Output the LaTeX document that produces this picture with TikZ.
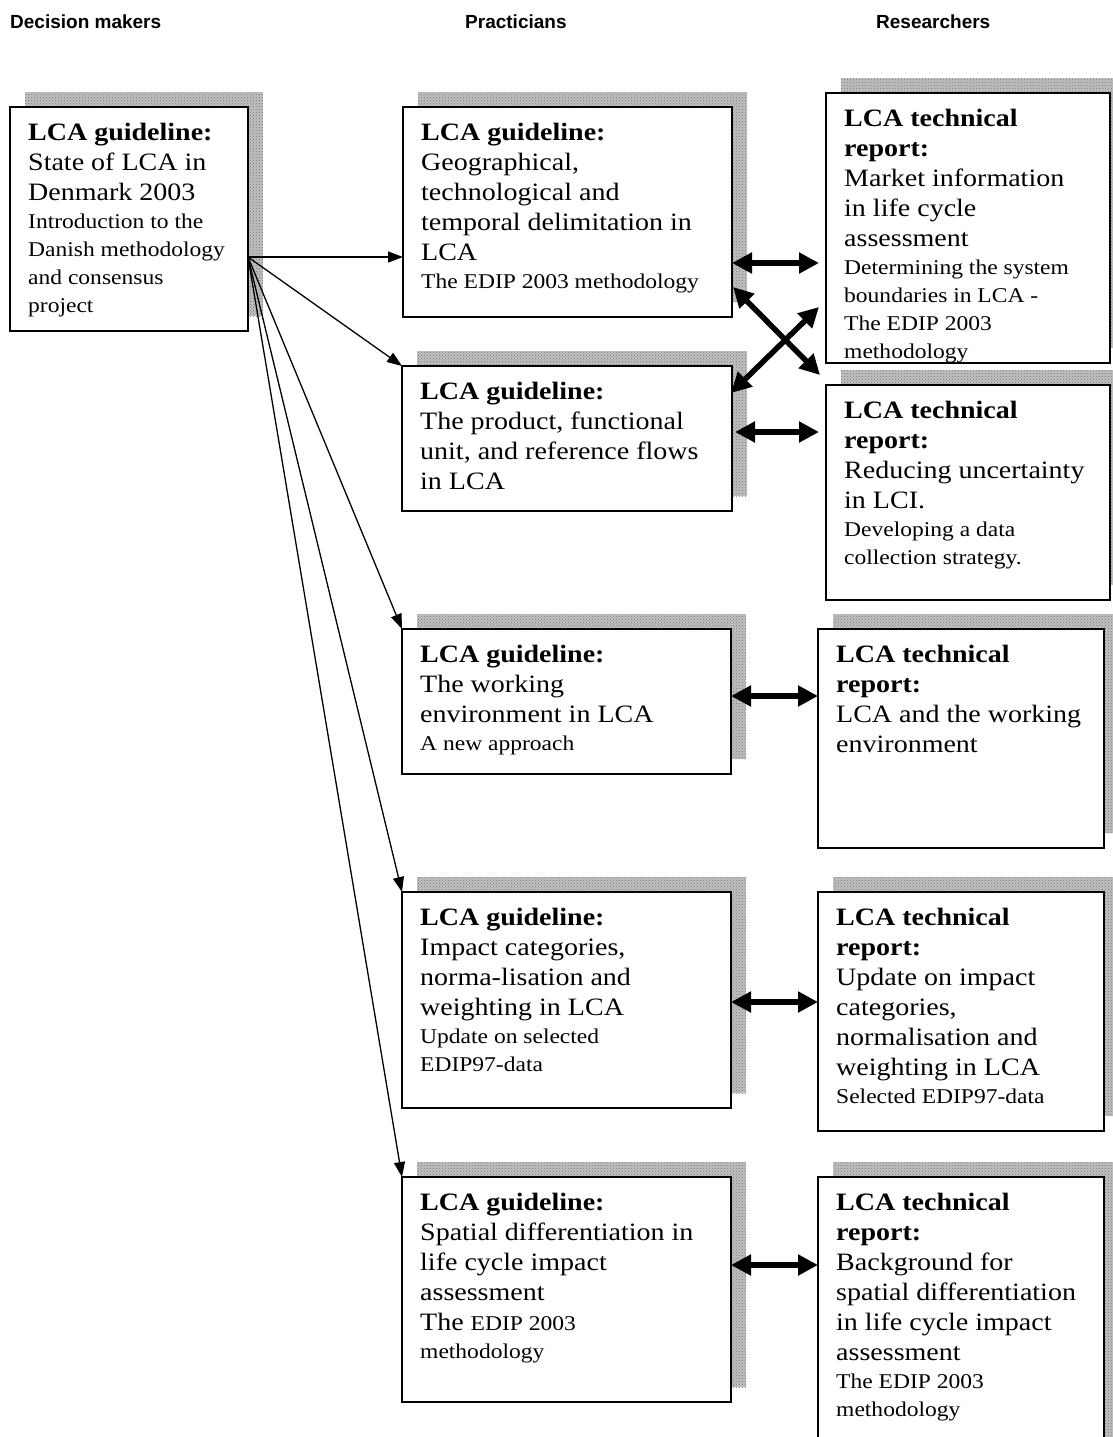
\documentclass[tikz,border=0pt]{standalone}
\usepackage{fontspec}
\setmainfont[FakeStretch=1.12]{Liberation Serif}
\newfontfamily\headfont{Liberation Sans}
\usetikzlibrary{arrows.meta,calc,patterns}

% text sizes used inside the cards
\newcommand\bigtxt{\fontsize{25}{30}\selectfont}
\newcommand\smalltxt{\fontsize{21}{28}\selectfont}
\newcommand\cardlines[1]{\parbox[t]{400pt}{\lineskiplimit=-100pt #1}}

% a card: grey offset shadow, white framed box, and its text
% #1 name, #2 left, #3 top, #4 right, #5 bottom, #6 text
\newcommand\card[6]{%
  \fill[dropshade] (#2+15,#3-15) rectangle (#4+15,#5-15);
  \node[cardbox, minimum width=#4-#2, minimum height=#5-#3] (#1) at (#2,#3) {};
  \node[cardtext] (#1t) at (#2+18,#3+33) {\cardlines{#6}};
}

\begin{document}
\begin{tikzpicture}[x=1pt,y=-1pt,
  dropshade/.style={preaction={fill={rgb,255:red,192;green,192;blue,192}},
    pattern=crosshatch dots, pattern color={rgb,255:red,120;green,120;blue,120}},
  cardbox/.style={draw, line width=1.4pt, fill=white, anchor=north west,
    inner sep=0pt, outer sep=0pt},
  cardtext/.style={anchor=base west, inner sep=0pt},
  colhead/.style={anchor=base west, inner sep=0pt,
    font=\headfont\bfseries\fontsize{19}{23}\selectfont},
  fan/.style={line width=1.3pt, -{Triangle[length=15pt,width=11pt]}},
  bothway/.style={line width=5.5pt,
    {Triangle[length=20pt,width=20pt]}-{Triangle[length=20pt,width=20pt]}},
]
\useasboundingbox (0,0) rectangle (1113,1437);
\clip (0,0) rectangle (1113,1437);

% column headings
\node[colhead] (hdm) at (10,29) {Decision makers};
\node[colhead] (hpr) at (465,29) {Practicians};
\node[colhead] (hre) at (876,29) {Researchers};

% decision makers
\card{D}{10}{107}{248}{331}{\bigtxt\textbf{LCA guideline:}\\State of LCA in\\Denmark 2003\par
  \smalltxt Introduction to the\\Danish methodology\\and consensus\\project}

% practicians
\card{P1}{403}{107}{732}{317}{\bigtxt\textbf{LCA guideline:}\\Geographical,\\technological and\\temporal delimitation in\\LCA\par
  \smalltxt The EDIP 2003 methodology}
\card{P2}{402}{366}{732}{511}{\bigtxt\textbf{LCA guideline:}\\The product, functional\\unit, and reference flows\\in LCA}
\card{P3}{402}{629}{731}{774}{\bigtxt\textbf{LCA guideline:}\\The working\\environment in LCA\par
  \smalltxt A new approach}
\card{P4}{402}{892}{731}{1108}{\bigtxt\textbf{LCA guideline:}\\Impact categories,\\norma-lisation and\\weighting in LCA\par
  \smalltxt Update on selected\\EDIP97-data}
\card{P5}{402}{1177}{731}{1402}{\bigtxt\textbf{LCA guideline:}\\Spatial differentiation in\\life cycle impact\\assessment\\The {\smalltxt EDIP 2003}\par
  \smalltxt methodology}

% researchers
\fill[dropshade] (841,78) rectangle (1125,348);
\node[cardbox, minimum width=284, minimum height=270] (R1) at (826,93) {};
\begin{scope}
  \clip (826,93) rectangle (1110,362);
  \node[cardtext] (R1t) at (844,126) {\cardlines{\bigtxt\textbf{LCA technical}\\\textbf{report:}\\Market information\\in life cycle\\assessment\par
    \smalltxt Determining the system\\boundaries in LCA -\\The EDIP 2003\\methodology}};
\end{scope}
\card{R2}{826}{385}{1110}{600}{\bigtxt\textbf{LCA technical}\\\textbf{report:}\\Reducing uncertainty\\in LCI.\par
  \smalltxt Developing a data\\collection strategy.}
\card{R3}{818}{629}{1104}{848}{\bigtxt\textbf{LCA technical}\\\textbf{report:}\\LCA and the working\\environment}
\card{R4}{818}{892}{1104}{1131}{\bigtxt\textbf{LCA technical}\\\textbf{report:}\\Update on impact\\categories,\\normalisation and\\weighting in LCA\par
  \smalltxt Selected EDIP97-data}
\card{R5}{818}{1177}{1104}{1460}{\bigtxt\textbf{LCA technical}\\\textbf{report:}\\Background for\\spatial differentiation\\in life cycle impact\\assessment\par
  \smalltxt The EDIP 2003\\methodology}

% guideline fan from the decision makers' card
\coordinate (fanroot) at ($(D.north east)+(0,150)$);
\draw[fan] (fanroot) -- (P1.west |- fanroot);
\draw[fan] (fanroot) -- (P2.north west);
\draw[fan] (fanroot) -- (P3.north west);
\draw[fan] (fanroot) -- (P4.north west);
\draw[fan] (fanroot) -- (P5.north west);

% two-way links between guidelines and technical reports
\draw[bothway, shorten >=7pt] (P1.east |- 0,263) -- (R1.west |- 0,263);
\draw[bothway, shorten >=7pt] ($(P2.east |- 0,432)+(3,0)$) -- (R2.west |- 0,432);
\coordinate (xa1) at ($(P1.south east)+(1,-30)$);
\coordinate (xa2) at ($(R2.north west)+(-6,-10)$);
\coordinate (xb1) at ($(P2.north east)+(-1,27)$);
\coordinate (xb2) at ($(R1.south west)+(-7,-56)$);
\draw[bothway] (xa1) -- (xa2);
\draw[bothway] (xb1) -- (xb2);
\draw[bothway] (P3.east |- 0,696) -- (R3.west |- 0,696);
\draw[bothway] (P4.east |- 0,1002) -- (R4.west |- 0,1002);
\draw[bothway] (P5.east |- 0,1265) -- (R5.west |- 0,1265);
\end{tikzpicture}
\end{document}
